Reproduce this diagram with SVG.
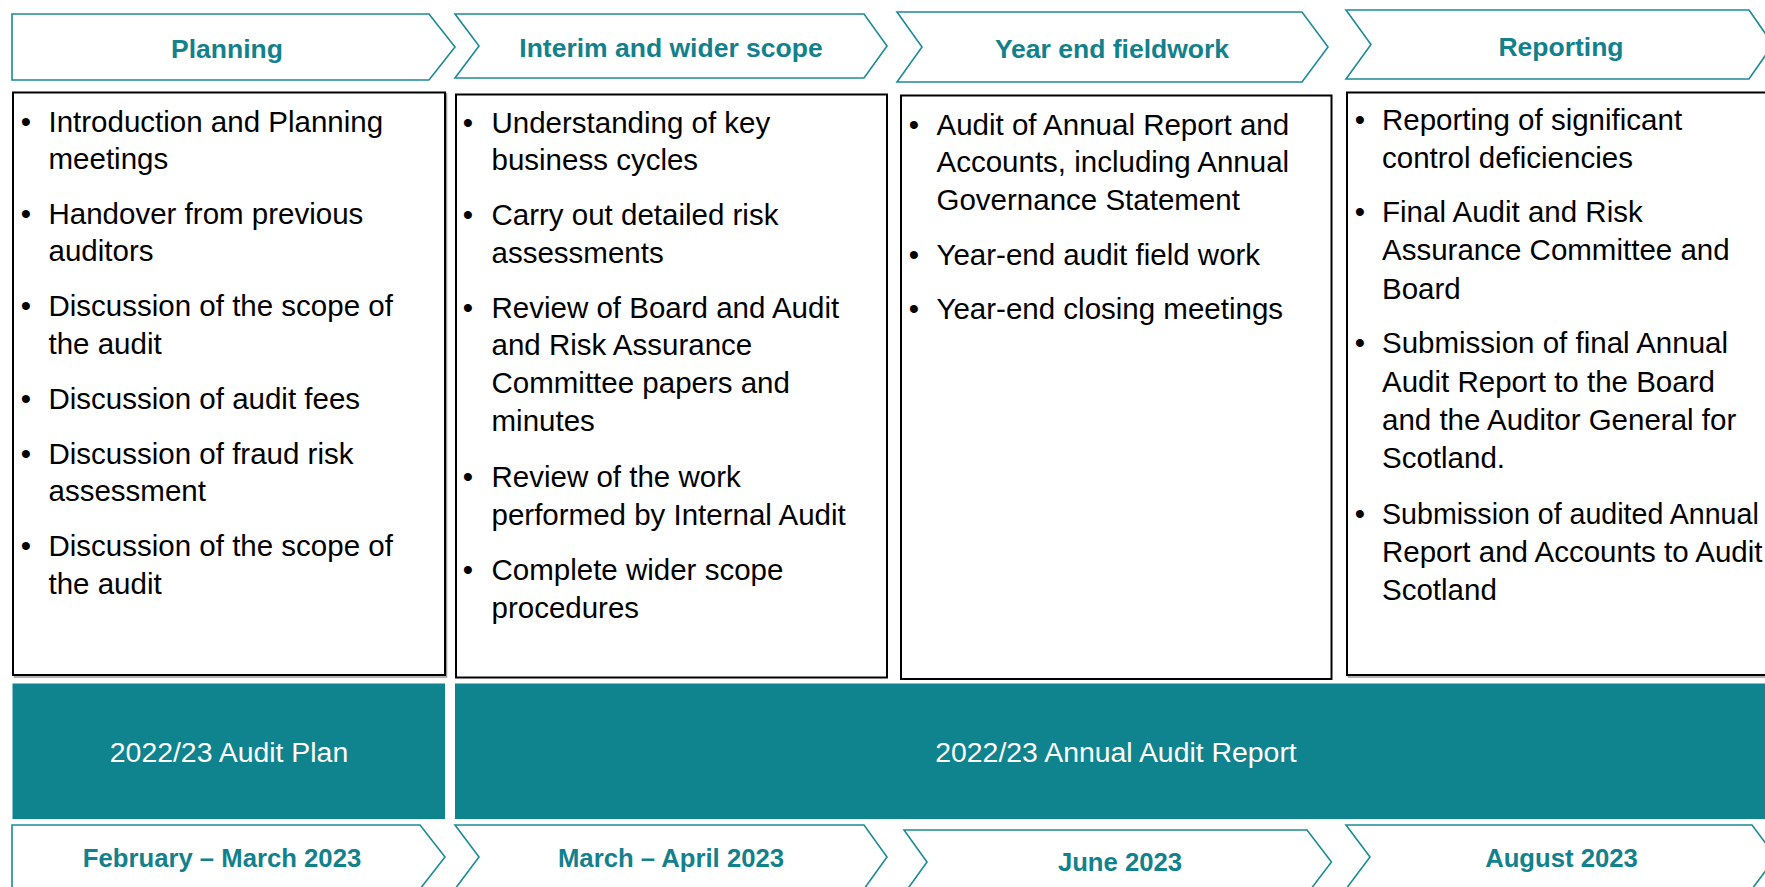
<svg xmlns="http://www.w3.org/2000/svg" width="1765" height="887" viewBox="0 0 1765 887">
<style>
.chev{fill:#ffffff;stroke:#1b8b96;stroke-width:1.6;stroke-linejoin:miter}
.head{font-family:"Liberation Sans",Arial,sans-serif;font-weight:bold;font-size:26.5px;fill:#12818c;text-anchor:middle}
.date{font-family:"Liberation Sans",Arial,sans-serif;font-weight:bold;font-size:25.7px;fill:#12818c;text-anchor:middle}
.box{fill:#ffffff;stroke:#000000;stroke-width:2}
.shadow{fill:none;stroke:#9a9a9a;stroke-width:1.5}
.body{font-family:"Liberation Sans",Arial,sans-serif;font-size:29.5px;fill:#000000}
.bul{font-family:"Liberation Sans",Arial,sans-serif;font-size:29.5px;fill:#000000;text-anchor:middle}
.bar{fill:#0f838e}
.bartxt{font-family:"Liberation Sans",Arial,sans-serif;font-size:28.4px;fill:#ffffff;text-anchor:middle}
</style>
<rect x="0" y="0" width="1765" height="887" fill="#ffffff"/>

<g id="head-planning">
<polygon class="chev" points="12,14 429,14 455,47 429,80 12,80"/>
<text class="head" x="227" y="57.5">Planning</text>
</g>
<g id="head-interim">
<polygon class="chev" points="455,14 864,14 887,46 864,78 455,78 479,46"/>
<text class="head" x="671" y="56.5">Interim and wider scope</text>
</g>
<g id="head-yearend">
<polygon class="chev" points="897,12 1302,12 1328,47 1302,82 897,82 922,47"/>
<text class="head" x="1112" y="57.5">Year end fieldwork</text>
</g>
<g id="head-reporting">
<polygon class="chev" points="1346,10 1749,10 1773,44.5 1749,79 1346,79 1371,44.5"/>
<text class="head" x="1561" y="55.5">Reporting</text>
</g>

<g id="box-planning">
<rect class="shadow" x="14.5" y="94" width="432" height="583"/>
<rect class="box" x="13" y="92.5" width="432" height="582.5"/>
<text class="bul" x="26" y="131.5">•</text>
<text class="body" x="48.5" y="131.5">Introduction and Planning</text>
<text class="body" x="48.5" y="168.5">meetings</text>
<text class="bul" x="26" y="223.5">•</text>
<text class="body" x="48.5" y="223.5">Handover from previous</text>
<text class="body" x="48.5" y="261">auditors</text>
<text class="bul" x="26" y="316">•</text>
<text class="body" x="48.5" y="316">Discussion of the scope of</text>
<text class="body" x="48.5" y="353.5">the audit</text>
<text class="bul" x="26" y="408.5">•</text>
<text class="body" x="48.5" y="408.5">Discussion of audit fees</text>
<text class="bul" x="26" y="463.5">•</text>
<text class="body" x="48.5" y="463.5">Discussion of fraud risk</text>
<text class="body" x="48.5" y="501">assessment</text>
<text class="bul" x="26" y="556">•</text>
<text class="body" x="48.5" y="556">Discussion of the scope of</text>
<text class="body" x="48.5" y="593.5">the audit</text>
</g>

<g id="box-interim">
<rect class="box" x="456" y="94.5" width="431" height="583"/>
<text class="bul" x="468" y="132.5">•</text>
<text class="body" x="491.5" y="132.5">Understanding of key</text>
<text class="body" x="491.5" y="170">business cycles</text>
<text class="bul" x="468" y="225">•</text>
<text class="body" x="491.5" y="225">Carry out detailed risk</text>
<text class="body" x="491.5" y="262.5">assessments</text>
<text class="bul" x="468" y="317.5">•</text>
<text class="body" x="491.5" y="317.5">Review of Board and Audit</text>
<text class="body" x="491.5" y="355">and Risk Assurance</text>
<text class="body" x="491.5" y="393">Committee papers and</text>
<text class="body" x="491.5" y="431">minutes</text>
<text class="bul" x="468" y="486.5">•</text>
<text class="body" x="491.5" y="486.5">Review of the work</text>
<text class="body" x="491.5" y="524.5">performed by Internal Audit</text>
<text class="bul" x="468" y="580">•</text>
<text class="body" x="491.5" y="580">Complete wider scope</text>
<text class="body" x="491.5" y="618">procedures</text>
</g>

<g id="box-yearend">
<rect class="box" x="901" y="95.5" width="430.5" height="583.5"/>
<text class="bul" x="914" y="135">•</text>
<text class="body" x="936.5" y="135">Audit of Annual Report and</text>
<text class="body" x="936.5" y="172">Accounts, including Annual</text>
<text class="body" x="936.5" y="209.5">Governance Statement</text>
<text class="bul" x="914" y="264.5">•</text>
<text class="body" x="936.5" y="264.5">Year-end audit field work</text>
<text class="bul" x="914" y="319">•</text>
<text class="body" x="936.5" y="319">Year-end closing meetings</text>
</g>

<g id="box-reporting">
<rect class="shadow" x="1348.5" y="94" width="440" height="583"/>
<rect class="box" x="1347" y="92.5" width="440" height="582.5"/>
<text class="bul" x="1360" y="129.5">•</text>
<text class="body" x="1382" y="129.5">Reporting of significant</text>
<text class="body" x="1382" y="167.5">control deficiencies</text>
<text class="bul" x="1360" y="222">•</text>
<text class="body" x="1382" y="222">Final Audit and Risk</text>
<text class="body" x="1382" y="260">Assurance Committee and</text>
<text class="body" x="1382" y="298.5">Board</text>
<text class="bul" x="1360" y="353">•</text>
<text class="body" x="1382" y="353">Submission of final Annual</text>
<text class="body" x="1382" y="391.5">Audit Report to the Board</text>
<text class="body" x="1382" y="430">and the Auditor General for</text>
<text class="body" x="1382" y="468">Scotland.</text>
<text class="bul" x="1360" y="523.5">•</text>
<text class="body" x="1382" y="523.5" style="font-size:28.6px">Submission of audited Annual</text>
<text class="body" x="1382" y="561.5">Report and Accounts to Audit</text>
<text class="body" x="1382" y="600">Scotland</text>
</g>

<g id="bar-plan">
<rect class="bar" x="12.5" y="683.5" width="432.5" height="135.5"/>
<text class="bartxt" x="229" y="762">2022/23 Audit Plan</text>
</g>
<g id="bar-report">
<rect class="bar" x="455" y="683.5" width="1320" height="135.5"/>
<text class="bartxt" x="1116" y="762">2022/23 Annual Audit Report</text>
</g>

<g id="date-planning">
<polygon class="chev" points="12,825 420,825 445,857 420,889 12,889"/>
<text class="date" x="222" y="867">February – March 2023</text>
</g>
<g id="date-interim">
<polygon class="chev" points="455,825 864,825 887,857 864,889 455,889 479,857"/>
<text class="date" x="671" y="867">March – April 2023</text>
</g>
<g id="date-yearend">
<polygon class="chev" points="904,830 1307,830 1331.5,862 1307,894 904,894 927,862"/>
<text class="date" x="1120" y="871">June 2023</text>
</g>
<g id="date-reporting">
<polygon class="chev" points="1346,825 1752,825 1776,857 1752,889 1346,889 1370,857"/>
<text class="date" x="1561.5" y="867">August 2023</text>
</g>

<g id="connectors"/>
</svg>
